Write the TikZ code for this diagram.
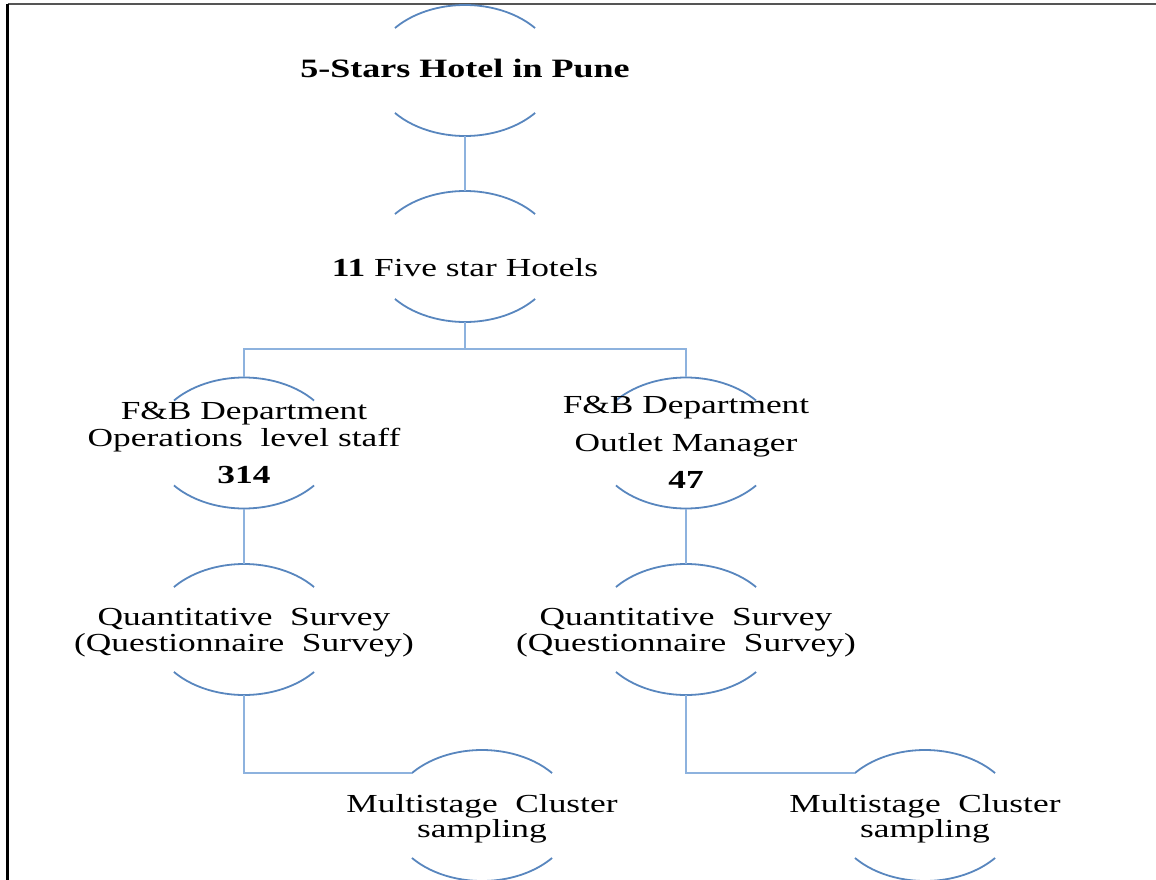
\documentclass[tikz,border=0pt]{standalone}
\usepackage{fontspec}
\setmainfont{Liberation Serif}[FakeStretch=1.36]
\usetikzlibrary{calc,shapes.geometric}
\definecolor{capblue}{RGB}{88,134,190}
\definecolor{linkblue}{RGB}{141,178,222}
\definecolor{framegray}{RGB}{85,85,85}
\begin{document}
\begin{tikzpicture}[x=1pt,y=1pt,
  hub/.style={ellipse, minimum width=184pt, minimum height=131pt, inner sep=0pt},
  ovalcap/.style={draw=capblue, line width=1.8pt},
  link/.style={draw=linkblue, line width=1.8pt},
  lbl/.style={anchor=base, inner sep=0pt, font=\fontsize{26}{30}\selectfont},
  boldlbl/.style={lbl, font=\fontsize{26}{30}\selectfont\bfseries},
]
\useasboundingbox (0,0) rectangle (1156,-880);

% page frame (top and left rules)
\draw[framegray, line width=2pt] (7.5,-4.5) -- (1156,-4.5);
\draw[black, line width=2.5pt] (7.5,-4.5) -- (7.5,-880);

% oval holders: only their upper and lower caps are drawn
\node[hub] (hotel) at (465,-70.5) {};
\node[hub] (five)  at (465,-256.5) {};
\node[hub] (ops)   at (244,-443) {};
\node[hub] (mgr)   at (686,-443) {};
\node[hub] (qsL)   at (244,-629.5) {};
\node[hub] (qsR)   at (686,-629.5) {};
\node[hub] (mcL)   at (482,-815.5) {};
\node[hub] (mcR)   at (925,-815.5) {};

\foreach \n in {hotel,five,ops,mgr,qsL,qsR,mcL,mcR}{
  \draw[ovalcap] ($(\n)+(40.4:92 and 65.5)$) arc[start angle=40.4, end angle=139.6, x radius=92, y radius=65.5];
  \draw[ovalcap] ($(\n)+(220.4:92 and 65.5)$) arc[start angle=220.4, end angle=319.6, x radius=92, y radius=65.5];
}

% connectors
\draw[link] (hotel.south) -- (five.north);
\coordinate (split) at ($(five.south)+(0,-27)$);
\draw[link] (five.south) -- (split) -| (ops.north);
\draw[link] (split) -| (mgr.north);
\draw[link] (ops.south) -- (qsL.north);
\draw[link] (mgr.south) -- (qsR.north);
\coordinate (mcLw) at ($(mcL)+(139.6:92 and 65.5)$);
\coordinate (mcRw) at ($(mcR)+(139.6:92 and 65.5)$);
\draw[link] (qsL.south) |- (mcLw);
\draw[link] (qsR.south) |- (mcRw);

% labels
\node[boldlbl, font=\fontsize{26.5}{30}\selectfont\bfseries] (hotelT) at (465,-78) {5-Stars Hotel in Pune};
\node[lbl] (fiveT) at (465,-276) {\textbf{11} Five star Hotels};

\node[lbl] (opsA) at (244,-419) {F\&B Department};
\node[lbl] (opsB) at (244,-446) {Operations~~level staff};
\node[boldlbl] (opsC) at (244,-483) {314};

\node[lbl] (mgrA) at (686,-413) {F\&B Department};
\node[lbl] (mgrB) at (686,-451) {Outlet Manager};
\node[boldlbl] (mgrC) at (686,-488) {47};

\node[lbl] (qsLa) at (244,-625) {Quantitative~~Survey};
\node[lbl] (qsLb) at (244,-651) {(Questionnaire~~Survey)};
\node[lbl] (qsRa) at (686,-625) {Quantitative~~Survey};
\node[lbl] (qsRb) at (686,-651) {(Questionnaire~~Survey)};

\node[lbl] (mcLa) at (482,-812) {Multistage~~Cluster};
\node[lbl] (mcLb) at (482,-837) {sampling};
\node[lbl] (mcRa) at (925,-812) {Multistage~~Cluster};
\node[lbl] (mcRb) at (925,-837) {sampling};
\end{tikzpicture}
\end{document}
